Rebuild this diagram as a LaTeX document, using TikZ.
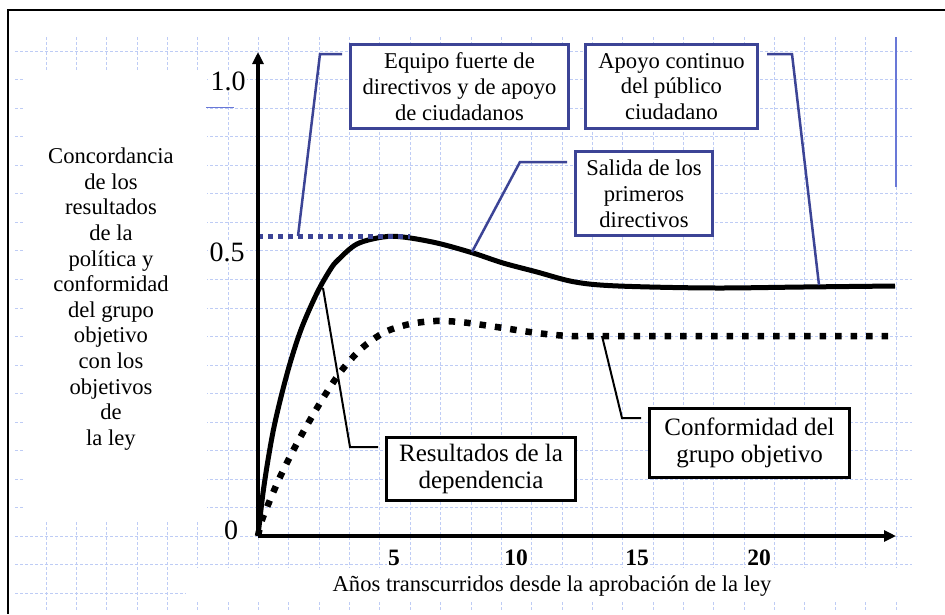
\documentclass[tikz,border=0pt]{standalone}
\usepackage{fontspec}
\setmainfont{Liberation Serif}
\usetikzlibrary{arrows.meta}
\definecolor{boxblue}{RGB}{60,68,150}
\definecolor{gridblue}{RGB}{190,204,245}
\definecolor{lineblue}{RGB}{105,120,215}
\tikzset{
  gridline/.style={gridblue, line width=0.9pt, dash pattern=on 3pt off 2pt},
  axisline/.style={line width=4pt, -{Triangle[length=12pt,width=11pt]}},
  maincurve/.style={line width=5pt},
  dotcurve/.style={line width=6.5pt, dash pattern=on 6.5pt off 9pt},
  bluedots/.style={boxblue, line width=5pt, dash pattern=on 5pt off 5pt},
  bluebox/.style={draw=boxblue, line width=3pt, fill=white, align=center, inner sep=0pt,
    font=\fontsize{22.6}{25.8}\selectfont},
  blackbox/.style={draw=black, line width=3pt, fill=white, align=center, inner sep=0pt,
    font=\fontsize{25}{27.5}\selectfont},
  blueconn/.style={boxblue, line width=2.5pt},
  blackconn/.style={black, line width=2pt},
  ticklabel/.style={fill=white, inner sep=1pt, font=\fontsize{28}{30}\selectfont},
  xticklabel/.style={fill=white, inner sep=1pt, font=\fontsize{23.5}{26}\selectfont\bfseries},
  plaintext/.style={align=center, inner sep=0pt, font=\fontsize{22.6}{25.6}\selectfont}
}
\begin{document}
\begin{tikzpicture}[x=1pt,y=-1pt]
\useasboundingbox (0,0) rectangle (945,614);
\fill[white] (0,0) rectangle (945,614);
% grid
\foreach \k in {0,...,28} {
  \draw[gridline] ({46+30.357*\k},37) -- ({46+30.357*\k},610);
}
\foreach \k in {0,...,19} {
  \draw[gridline] (15,{51+28.55*\k}) -- (912,{51+28.55*\k});
}
% white backgrounds over grid
\fill[white] (23,72) rectangle (207,520);
\fill[white] (186,568) rectangle (912,601);
% stray blue lines
\draw[lineblue, line width=1pt] (206,107) -- (234,107);
\draw[lineblue, line width=1.5pt] (896,37) -- (896,187);
% frame
\draw[line width=2.5pt] (945,10) -- (8,10) -- (8,614);

% origin and axes
\coordinate (O) at (258,536);
\coordinate (ytip) at (258,52);
\coordinate (xtip) at (896,536);

% curves
\draw[dotcurve] plot[smooth, tension=0.5] coordinates {(258,536) (262,520) (270,500) (280,477) (295,447) (310,420) (325,395) (342,370) (362,348) (385,332) (410,324) (435,321) (460,322) (490,326) (537,333) (570,336) (610,336) (892,336)};
\draw[maincurve] plot[smooth, tension=0.55] coordinates {(258,536) (259,527) (263,493) (268,460) (274,427) (282,393) (291,360) (302,327) (317,293) (330,270) (338,260) (357,244) (383,237) (403,237) (437,243) (473,253) (503,263) (537,272) (570,281) (600,285) (650,287) (720,288) (803,287) (895,286)};
\draw[bluedots] (258,236) -- (410,236);

\draw[axisline] (O) -- (ytip);
\draw[axisline] (O) -- (xtip);

% tick labels
\node[ticklabel] (t10) at (228,81) {1.0};
\node[ticklabel] (t05) at (227,252) {0.5};
\node[ticklabel] (t0) at (231,530) {0};
\node[xticklabel] (x5) at (394,558) {5};
\node[xticklabel] (x10) at (516,558) {10};
\node[xticklabel] (x15) at (637,558) {15};
\node[xticklabel] (x20) at (759,558) {20};

% axis titles
\node[plaintext] (ylab) at (111,299) {Concordancia\\de los\\resultados\\de la\\política y\\conformidad\\del grupo\\objetivo\\con los\\objetivos\\de\\la ley};
\node[plaintext] (xlab) at (552,586) {Años transcurridos desde la aprobación de la ley};

% boxes
\node[bluebox, minimum width=218pt, minimum height=84pt] (b1) at (459.5,86.5) {Equipo fuerte de\\directivos y de apoyo\\de ciudadanos};
\node[bluebox, minimum width=172pt, minimum height=84pt] (b2) at (671.5,86.5) {Apoyo continuo\\del público\\ciudadano};
\node[bluebox, minimum width=137pt, minimum height=84pt] (b3) at (644,193.5) {Salida de los\\primeros\\directivos};
\node[blackbox, minimum width=189pt, minimum height=63pt] (b4) at (481,469) {Resultados de la\\dependencia};
\node[blackbox, minimum width=200pt, minimum height=69pt] (b5) at (749.5,443) {Conformidad del\\grupo objetivo};

% connector points
\coordinate (c1a) at (342,54);
\coordinate (c1b) at (320,54);
\coordinate (c1c) at (298,236);
\coordinate (c2a) at (767,54);
\coordinate (c2b) at (792,54);
\coordinate (c2c) at (819,285);
\coordinate (c3a) at (567,162);
\coordinate (c3b) at (520,162);
\coordinate (c3c) at (472,252);
\coordinate (c4a) at (378,447);
\coordinate (c4b) at (350,447);
\coordinate (c4c) at (323,288);
\coordinate (c5a) at (641,418);
\coordinate (c5b) at (622,418);
\coordinate (c5c) at (602,336);

\draw[blueconn] (c1a) -- (c1b) -- (c1c);
\draw[blueconn] (c2a) -- (c2b) -- (c2c);
\draw[blueconn] (c3a) -- (c3b) -- (c3c);
\draw[blackconn] (c4a) -- (c4b) -- (c4c);
\draw[blackconn] (c5a) -- (c5b) -- (c5c);
\end{tikzpicture}
\end{document}
